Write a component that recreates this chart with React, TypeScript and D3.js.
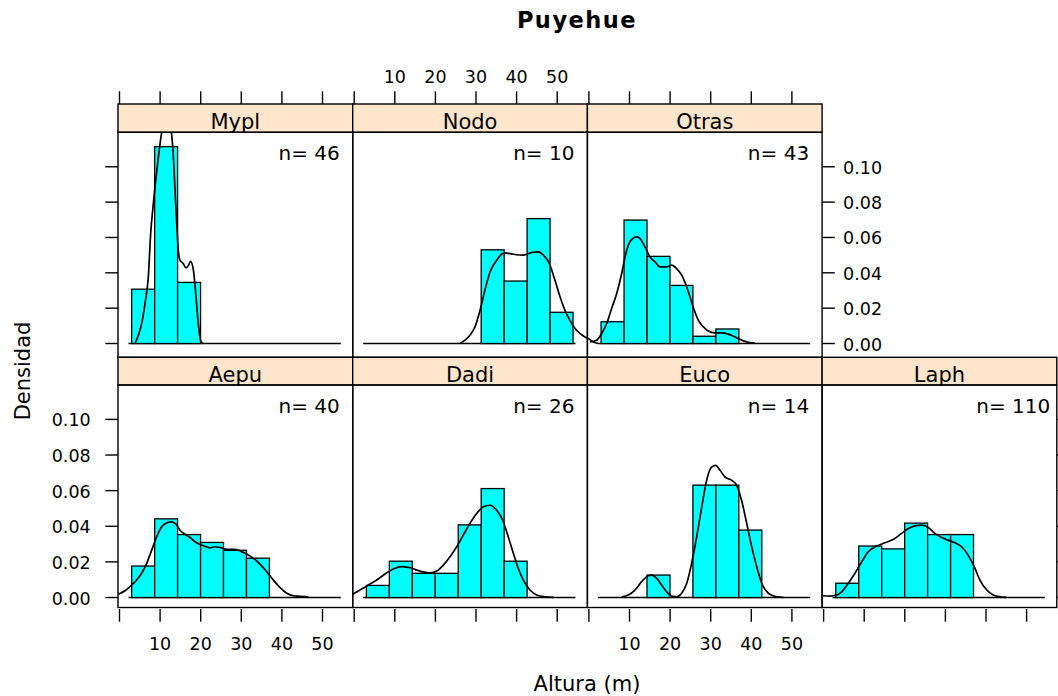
import React from "react";
import * as d3 from "d3";

// ---- data -------------------------------------------------------------
const panelNames = ["Mypl", "Nodo", "Otras", "Aepu", "Dadi", "Euco", "Laph"];
const panelN = [46, 10, 43, 40, 26, 14, 110];
// grid cell of each panel: [row, col]
const panelCell: [number, number][] = [
  [0, 0], [0, 1], [0, 2],
  [1, 0], [1, 1], [1, 2], [1, 3],
];

// common histogram breaks (Altura, m)
const breaks = [3.0, 8.66, 14.31, 19.97, 25.62, 31.28, 36.93, 42.59, 48.24, 53.9];

// counts per bin
const countsMypl = [8, 29, 9, 0, 0, 0, 0, 0, 0];
const countsNodo = [0, 0, 0, 0, 0, 3, 2, 4, 1];
const countsOtras = [3, 17, 12, 8, 1, 2, 0, 0, 0];
const countsAepu = [4, 10, 8, 7, 6, 5, 0, 0, 0];
const countsDadi = [1, 3, 2, 2, 6, 9, 3, 0, 0];
const countsEuco = [0, 0, 1, 0, 5, 5, 3, 0, 0];
const countsLaph = [5, 18, 17, 26, 22, 22, 0, 0, 0];
const panelCounts = [countsMypl, countsNodo, countsOtras, countsAepu, countsDadi, countsEuco, countsLaph];

// kernel density curves [altura, densidad]
const densMypl: [number, number][] = [
  [3.82, 0], [4.64, 0.0047], [5.46, 0.0113], [6.28, 0.0226], [7.1, 0.0377], [7.68, 0.0623],
  [8.17, 0.0754], [8.74, 0.0886], [9.3, 0.0999], [9.98, 0.113], [10.6, 0.122], [11.3, 0.127],
  [11.9, 0.124], [12.4, 0.126], [12.86, 0.118], [13.27, 0.1056], [13.67, 0.0868], [14.09, 0.068],
  [14.48, 0.0528], [14.9, 0.0471], [15.6, 0.0455], [16.4, 0.0428], [17.0, 0.0442], [17.5, 0.0465],
  [18.2, 0.0415], [18.84, 0.0264], [19.4, 0.0113], [20.07, 0.001], [20.6, 0],
];
const densNodo: [number, number][] = [
  [26.06, 0], [27.3, 0.0019], [28.5, 0.0047], [29.75, 0.0094], [31.0, 0.0188], [32.2, 0.0302],
  [33.45, 0.0405], [35.1, 0.0471], [36.3, 0.0505], [37.1, 0.0513], [39.2, 0.0505], [41.7, 0.05],
  [43.7, 0.0515], [45.35, 0.0518], [46.6, 0.05], [48.05, 0.0453], [49.45, 0.0358], [50.7, 0.0264],
  [51.9, 0.0188], [53.1, 0.0132], [54.4, 0.0085], [55.6, 0.0057], [56.85, 0.0037], [57.66, 0.0028],
  [58.9, 0.0009], [60.1, 0],
];
const densOtras: [number, number][] = [
  [0.27, 0.0009], [1.92, 0.0019], [3.15, 0.0057], [4.38, 0.0113], [5.6, 0.0198], [6.85, 0.0283],
  [8.08, 0.0396], [8.9, 0.049], [9.7, 0.0556], [10.8, 0.0594], [11.77, 0.0603], [12.6, 0.0594],
  [13.8, 0.0547], [15.05, 0.049], [16.28, 0.0462], [17.5, 0.0434], [19.16, 0.0434], [20.4, 0.0443],
  [21.6, 0.0424], [22.85, 0.0387], [24.1, 0.032], [25.15, 0.0245], [25.96, 0.0188], [26.95, 0.0132],
  [28.2, 0.0094], [29.4, 0.0071], [31.06, 0.006], [32.7, 0.006], [34.33, 0.0053], [35.98, 0.0037],
  [37.6, 0.0019], [39.26, 0.0007], [40.9, 0.0003],
];
const densAepu: [number, number][] = [
  [-0.3, 0.0018], [1.35, 0.0038], [3.0, 0.007], [4.24, 0.0098], [5.46, 0.0136], [6.7, 0.0192],
  [7.93, 0.0266], [9.16, 0.0341], [10.4, 0.0397], [11.6, 0.0419], [12.86, 0.0425], [13.9, 0.0412],
  [14.9, 0.0378], [16.1, 0.0356], [17.4, 0.0337], [18.6, 0.0313], [19.8, 0.0298], [21.05, 0.0288],
  [22.3, 0.0279], [23.5, 0.0285], [24.75, 0.0281], [26.4, 0.027], [28.0, 0.027], [29.7, 0.0262],
  [31.3, 0.0244], [32.96, 0.022], [34.6, 0.0188], [36.26, 0.0145], [37.9, 0.0098], [39.5, 0.0057],
  [41.2, 0.0024], [42.8, 0.001], [44.46, 0.0007], [46.5, 0.0003],
];
const densDadi: [number, number][] = [
  [-0.37, 0.0018], [1.43, 0.0042], [3.47, 0.007], [5.54, 0.0098], [7.59, 0.0132], [9.63, 0.016],
  [11.7, 0.0173], [13.3, 0.0169], [14.98, 0.0158], [16.6, 0.0145], [18.67, 0.0139], [20.47, 0.015],
  [21.95, 0.0182], [23.6, 0.0229], [25.25, 0.0285], [26.87, 0.035], [28.5, 0.0416], [30.17, 0.0472],
  [31.8, 0.0509], [33.45, 0.0518], [35.1, 0.049], [36.58, 0.0434], [37.96, 0.034], [39.2, 0.0248],
  [40.4, 0.0164], [41.65, 0.0098], [43.3, 0.0042], [44.95, 0.0014], [47.0, 0.0004], [49.0, 0.0001],
];
const densEuco: [number, number][] = [
  [8.07, 0.0004], [9.7, 0.0014], [11.35, 0.0042], [13.0, 0.0089], [14.63, 0.0122], [15.47, 0.0126],
  [16.7, 0.0108], [17.93, 0.007], [19.16, 0.0032], [20.4, 0.0008], [21.6, 0.0004], [22.85, 0.0024],
  [24.1, 0.008], [25.3, 0.0192], [26.55, 0.0341], [27.8, 0.0509], [29.0, 0.0658], [30.25, 0.0733],
  [31.23, 0.0742], [32.3, 0.0714], [33.5, 0.0677], [35.17, 0.0658], [36.4, 0.063], [37.6, 0.0546],
  [38.87, 0.0416], [40.1, 0.0285], [41.33, 0.0173], [42.56, 0.008], [44.2, 0.0024], [46.26, 0.0004],
  [47.9, 0.0001],
];
const densLaph: [number, number][] = [
  [-0.3, 0.001], [1.58, 0.0008], [3.2, 0.0014], [4.46, 0.0032], [6.1, 0.008], [7.73, 0.0136],
  [9.38, 0.02], [11.0, 0.0257], [13.08, 0.0289], [15.1, 0.0307], [17.6, 0.0332], [19.2, 0.036],
  [20.9, 0.0388], [22.5, 0.0402], [24.16, 0.0406], [25.8, 0.0393], [27.4, 0.036], [29.1, 0.0337],
  [30.7, 0.0322], [32.4, 0.0307], [34.0, 0.0285], [35.6, 0.0238], [37.1, 0.0173], [38.5, 0.0098],
  [40.2, 0.0042], [41.8, 0.0014], [43.45, 0.0004], [45.1, 0.0001],
];
const panelDens = [densMypl, densNodo, densOtras, densAepu, densDadi, densEuco, densLaph];

const baselineRange = [2.2, 54.5];
const xTicks = [0, 10, 20, 30, 40, 50];
const xTickLabels = ["", "10", "20", "30", "40", "50"];
const yTicks = [0, 0.02, 0.04, 0.06, 0.08, 0.1];
const yTickLabels = ["0.00", "0.02", "0.04", "0.06", "0.08", "0.10"];
const nLabelX = 46.7;

const title = "Puyehue";
const xLabel = "Altura (m)";
const yLabel = "Densidad";

// ---- layout -----------------------------------------------------------
const W = 1058;
const H = 696;
const colLeft0 = 118;
const colW = 234.7;
const xlim = [-0.37, 57.44];
const rowsLayout = [
  { stripTop: 104, bodyTop: 132.3, bodyBottom: 357.3, ylim: [-0.0078, 0.1195] },
  { stripTop: 357.3, bodyTop: 385, bodyBottom: 607.5, ylim: [-0.0056, 0.1193] },
];
const FONT = "'DejaVu Sans', Verdana, sans-serif";
const STRIP_BG = "#FFE5CC";
const BAR_FILL = "#00FFFF";
const LW = 1.4;
const TICK = 12.7;
const TEXT = "#000";

const xScaleFor = (col: number) =>
  d3.scaleLinear().domain(xlim).range([colLeft0 + col * colW, colLeft0 + (col + 1) * colW]);
const yScaleFor = (row: number) =>
  d3.scaleLinear().domain(rowsLayout[row].ylim).range([rowsLayout[row].bodyBottom, rowsLayout[row].bodyTop]);

export default function App() {
  const binW = breaks[1] - breaks[0];
  const line = d3.line<[number, number]>().curve(d3.curveMonotoneX);

  const panels = panelNames.map((name, i) => {
    const [row, col] = panelCell[i];
    const x = xScaleFor(col);
    const y = yScaleFor(row);
    const L = rowsLayout[row];
    const n = panelN[i];
    const counts = panelCounts[i];
    const bars = counts
      .map((c, b) => ({ x0: breaks[b], x1: breaks[b + 1], d: c / (n * binW) }))
      .filter((b) => b.d > 0);
    const path = line.x((p) => x(p[0])).y((p) => y(p[1]))(panelDens[i]) || "";
    return { name, row, col, x, y, L, n, bars, path };
  });

  return (
    <svg
      width={W}
      height={H}
      viewBox={`0 0 ${W} ${H}`}
      style={{ position: "absolute", left: 0, top: 0, background: "#fff" }}
      fontFamily={FONT}
    >
      <rect x={0} y={0} width={W} height={H} fill="#fff" />

      {/* panel contents */}
      {panels.map((p) => (
        <g key={p.name + "-body"}>
          <line
            x1={p.x(baselineRange[0])}
            x2={p.x(baselineRange[1])}
            y1={p.y(0)}
            y2={p.y(0)}
            stroke="#000"
            strokeWidth={LW}
          />
          {p.bars.map((b, k) => (
            <rect
              key={k}
              x={p.x(b.x0)}
              y={p.y(b.d)}
              width={p.x(b.x1) - p.x(b.x0)}
              height={p.y(0) - p.y(b.d)}
              fill={BAR_FILL}
              stroke="#000"
              strokeWidth={1.3}
            />
          ))}
          <path d={p.path} fill="none" stroke="#000" strokeWidth={1.7} />
          <text
            x={p.x(nLabelX)}
            y={p.L.bodyTop + 27.8}
            textAnchor="middle"
            fontSize={20}
            fill={TEXT}
          >
            {`n= ${p.n}`}
          </text>
        </g>
      ))}

      {/* strips and panel borders */}
      {panels.map((p) => {
        const x0 = colLeft0 + p.col * colW;
        return (
          <g key={p.name + "-frame"}>
            <rect
              x={x0}
              y={p.L.stripTop}
              width={colW}
              height={p.L.bodyTop - p.L.stripTop}
              fill={STRIP_BG}
              stroke="#000"
              strokeWidth={LW}
            />
            <text
              x={x0 + colW / 2}
              y={p.L.bodyTop - 3}
              textAnchor="middle"
              fontSize={21}
              fill={TEXT}
            >
              {p.name}
            </text>
            <rect
              x={x0}
              y={p.L.bodyTop}
              width={colW}
              height={p.L.bodyBottom - p.L.bodyTop}
              fill="none"
              stroke="#000"
              strokeWidth={LW}
            />
          </g>
        );
      })}

      {/* top axis: row 0, labels on column 1 */}
      {[0, 1, 2].map((col) => {
        const x = xScaleFor(col);
        const top = rowsLayout[0].stripTop;
        return (
          <g key={"top" + col}>
            {xTicks.map((t, k) => (
              <g key={k}>
                <line x1={x(t)} x2={x(t)} y1={top - TICK} y2={top} stroke="#000" strokeWidth={LW} />
                {col === 1 && (
                  <text x={x(t)} y={83.3} textAnchor="middle" fontSize={17.5} fill={TEXT}>
                    {xTickLabels[k]}
                  </text>
                )}
              </g>
            ))}
          </g>
        );
      })}

      {/* bottom axis: row 1, labels on columns 0 and 2 */}
      {[0, 1, 2, 3].map((col) => {
        const x = xScaleFor(col);
        const bot = rowsLayout[1].bodyBottom;
        return (
          <g key={"bot" + col}>
            {xTicks.map((t, k) => (
              <g key={k}>
                <line x1={x(t)} x2={x(t)} y1={bot + 1.5} y2={bot + 1.5 + TICK} stroke="#000" strokeWidth={LW} />
                {(col === 0 || col === 2) && (
                  <text x={x(t)} y={650} textAnchor="middle" fontSize={17.5} fill={TEXT}>
                    {xTickLabels[k]}
                  </text>
                )}
              </g>
            ))}
          </g>
        );
      })}

      {/* left axis: column 0, labels on row 1 */}
      {[0, 1].map((row) => {
        const y = yScaleFor(row);
        return (
          <g key={"left" + row}>
            {yTicks.map((t, k) => (
              <g key={k}>
                <line x1={colLeft0 - TICK} x2={colLeft0} y1={y(t)} y2={y(t)} stroke="#000" strokeWidth={LW} />
                {row === 1 && (
                  <text x={90.7} y={y(t) + 7} textAnchor="end" fontSize={17.5} fill={TEXT}>
                    {yTickLabels[k]}
                  </text>
                )}
              </g>
            ))}
          </g>
        );
      })}

      {/* right axis: rightmost panel of each row, labels on row 0 */}
      {[
        { row: 0, col: 2 },
        { row: 1, col: 3 },
      ].map(({ row, col }) => {
        const y = yScaleFor(row);
        const xr = colLeft0 + (col + 1) * colW;
        return (
          <g key={"right" + row}>
            {yTicks.map((t, k) => (
              <g key={k}>
                <line x1={xr} x2={xr + TICK} y1={y(t)} y2={y(t)} stroke="#000" strokeWidth={LW} />
                {row === 0 && (
                  <text x={xr + 21} y={y(t) + 7} textAnchor="start" fontSize={17.5} fill={TEXT}>
                    {yTickLabels[k]}
                  </text>
                )}
              </g>
            ))}
          </g>
        );
      })}

      {/* titles */}
      <text x={577} y={28.3} textAnchor="middle" fontSize={22.5} fontWeight="bold" letterSpacing={1.5} fill="#000">
        {title}
      </text>
      <text x={587} y={691} textAnchor="middle" fontSize={21} fill={TEXT}>
        {xLabel}
      </text>
      <text transform="translate(30.3,371) rotate(-90)" textAnchor="middle" fontSize={21} fill={TEXT}>
        {yLabel}
      </text>
    </svg>
  );
}
